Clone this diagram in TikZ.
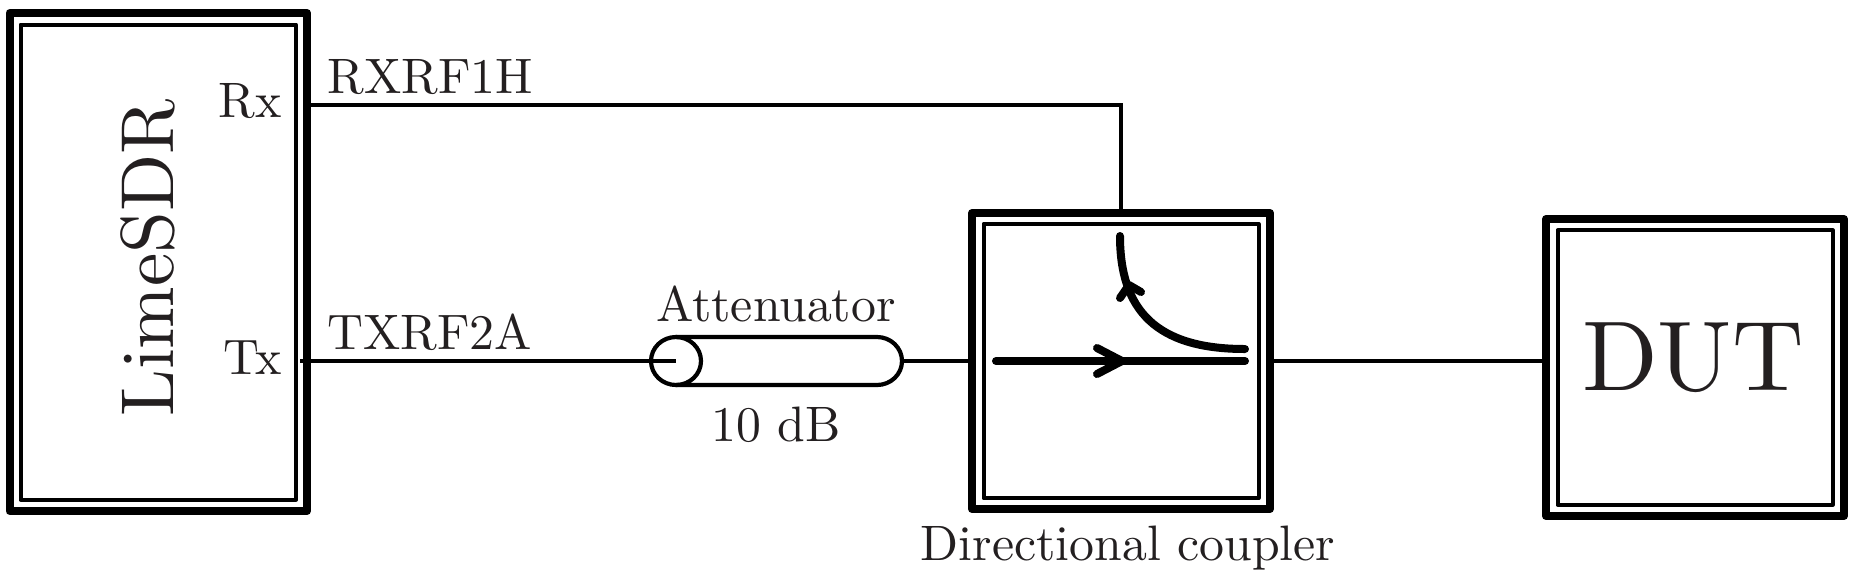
\documentclass[tikz,border=0pt]{standalone}
\definecolor{ink}{HTML}{231F20}
\font\lmA=[lmroman10-regular.otf] at 24.9pt
\font\lmB=[lmroman10-regular.otf] at 37.5pt
\font\lmC=[lmroman10-regular.otf] at 49.6pt
\tikzset{
  x=0.5pt,y=-0.5pt,
  outerbox/.style={rectangle,draw=black,line width=4pt,line join=round,outer sep=0pt,inner sep=0pt},
  innerbox/.style={rectangle,draw=black,line width=2pt,line join=round,outer sep=0pt,inner sep=0pt},
  wire/.style={draw=black,line width=2.1pt},
  flow/.style={draw=black,line width=4pt,line cap=round,line join=round},
  lab/.style={text=ink,inner sep=0pt,font=\lmA},
}
\begin{document}
\begin{tikzpicture}
\useasboundingbox (0,0) rectangle (1854,575);
% boxes
\node[outerbox,minimum width=148.75pt,minimum height=249pt] (lime) at (158.25,262) {};
\node[innerbox,minimum width=137.75pt,minimum height=237.5pt] (limei) at (lime.center) {};
\node[outerbox,minimum width=149pt,minimum height=148pt] (coupler) at (1121,361) {};
\node[innerbox,minimum width=137.5pt,minimum height=137.25pt] (coupleri) at (coupler.center) {};
\node[outerbox,minimum width=149pt,minimum height=148.5pt] (dut) at (1695,367.5) {};
\node[innerbox,minimum width=137.5pt,minimum height=137.25pt] (duti) at (dut.center) {};
% connector ends
\coordinate (rxpt) at (307,105);
\coordinate (txpt) at (300,361);
\coordinate (attL) at (676,361);
\coordinate (attR) at (902,361);
% attenuator
\draw[wire] (txpt) -- (attL);
\draw[wire] (676,337) -- (877,337) arc[start angle=90,end angle=-90,x radius=12.5pt,y radius=12pt] -- (676,385);
\draw[wire] (attL) circle[x radius=12.5pt,y radius=12pt];
\draw[wire] (attR) -- (coupler.west);
\draw[wire] (rxpt) -| (coupler.north);
\draw[wire] (coupler.east) -- (coupler.east -| dut.west);
% coupler flows
\coordinate (mainA) at (996,361);
\coordinate (mainB) at (1245,361);
\coordinate (curA) at (1120,236);
\coordinate (curB) at (1245,349);
\draw[flow] (mainA) -- (mainB);
\draw[flow] (1097,348) -- (1122,361) -- (1097,374);
\draw[flow] (curA) .. controls (1120,310) and (1156,349) .. (curB);
\draw[flow] (1120,298) -- (1129,285) -- (1141,292);
% labels
\node[lab,anchor=base west] (rxrf) at (327,93) {RXRF1H};
\node[lab,anchor=base west] (txrf) at (327,349) {TXRF2A};
\node[lab,anchor=base east] (rx) at (282,117) {Rx};
\node[lab,anchor=base east] (tx) at (282,374) {Tx};
\node[lab,anchor=base] (attn) at (776,321.5) {Attenuator};
\node[lab,anchor=base] (db) at (776,441) {10 dB};
\node[lab,anchor=base] (dc) at (1128,560) {Directional coupler};
\node[text=ink,inner sep=0pt,anchor=base,rotate=90,font=\lmB] (limet) at (173,258) {LimeSDR};
\node[text=ink,inner sep=0pt,anchor=base,font=\lmC] (dutt) at (1693,390) {DUT};
\end{tikzpicture}
\end{document}
